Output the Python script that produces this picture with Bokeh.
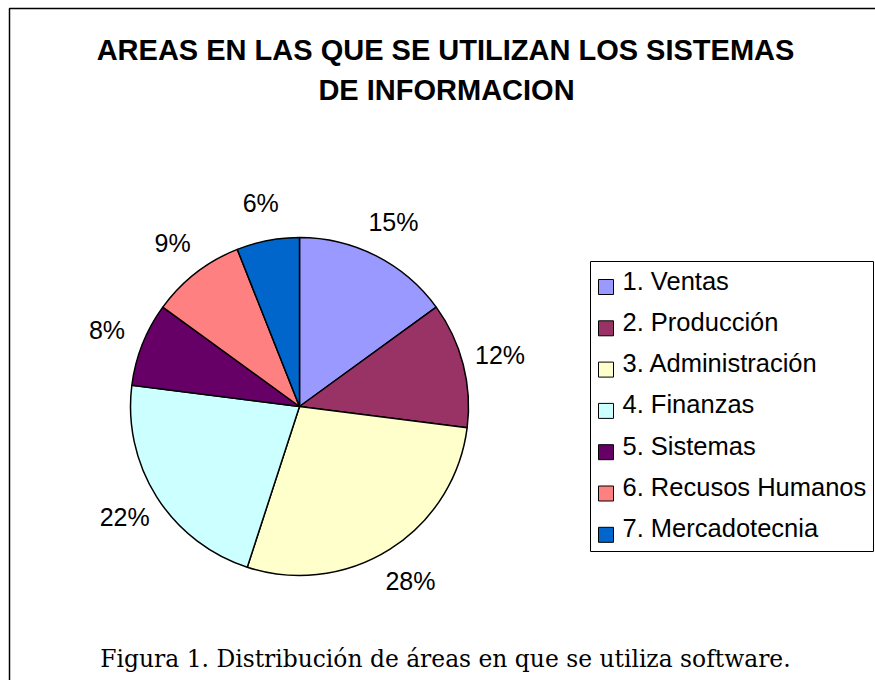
import numpy as np
from bokeh.plotting import figure
from bokeh.models import Range1d, ColumnDataSource
from bokeh.core.properties import value
from bokeh.embed import file_html
from bokeh.resources import INLINE

# ---- data ----
categories = ["1. Ventas", "2. Producción", "3. Administración", "4. Finanzas",
              "5. Sistemas", "6. Recusos Humanos", "7. Mercadotecnia"]
percentages = [15, 12, 28, 22, 8, 9, 6]
colors = ["#9999FF", "#993366", "#FFFFCC", "#CCFFFF", "#660066", "#FF8080", "#0066CC"]
title_lines = ["AREAS EN LAS QUE SE UTILIZAN LOS SISTEMAS", "DE INFORMACION"]
caption = "Figura 1. Distribución de áreas en que se utiliza software."

W, H = 875, 680


def Y(sy):
    return H - sy


p = figure(width=W, height=H, x_range=Range1d(0, W), y_range=Range1d(0, H),
           output_backend="svg", toolbar_location=None,
           x_axis_type=None, y_axis_type=None, min_border=0)
p.outline_line_color = None
p.background_fill_color = "white"
p.border_fill_color = "white"

# outer frame
p.line(x=[9, 9, 875], y=[Y(680), Y(8), Y(8)], line_color="black", line_width=1.5)

# pie
vals = np.array(percentages, dtype=float)
frac = vals / vals.sum()
cum_end = np.cumsum(frac)
cum_start = cum_end - frac
start = np.pi / 2 - 2 * np.pi * cum_end
end = np.pi / 2 - 2 * np.pi * cum_start
cx, cy, R = 299, Y(406), 169
src = ColumnDataSource(dict(start=start, end=end, color=colors))
p.wedge(x=cx, y=cy, radius=R, radius_units="screen", start_angle="start",
        end_angle="end", fill_color="color", line_color="black", line_width=1.5,
        source=src)

# percentage labels
mid = (start + end) / 2
LR = 207
lx = cx + LR * np.cos(mid)
ly = cy + LR * np.sin(mid)
pct_labels = [f"{v}%" for v in percentages]
p.text(x=lx, y=ly, text=pct_labels, text_font=value("Liberation Sans"),
       text_font_size="25px", text_align="center", text_baseline="middle",
       text_color="black")

# title
p.text(x=[445, 446], y=[Y(49), Y(89)], text=title_lines,
       text_font=value("Liberation Sans"), text_font_style="bold",
       text_font_size="29px", text_align="center", text_baseline="middle",
       text_color="black")

# legend
p.quad(left=590, right=873, top=Y(261), bottom=Y(551), fill_color="white",
       line_color="black", line_width=1)
idx = np.arange(len(categories))
sq_y = 286.5 + 41.3 * idx
p.quad(left=598, right=613, top=Y(sq_y - 7.5), bottom=Y(sq_y + 7.5),
       fill_color=colors, line_color="black", line_width=1)
p.text(x=622, y=Y(280 + 41.3 * idx), text=categories,
       text_font=value("Liberation Sans"), text_font_size="25.5px",
       text_align="left", text_baseline="middle", text_color="black")

# caption
p.text(x=[445], y=[Y(658)], text=[caption], text_font=value("DejaVu Serif"),
       text_font_size="23.4px", text_align="center", text_baseline="middle",
       text_color="black")

open("out.html", "w").write(file_html(p, INLINE))
